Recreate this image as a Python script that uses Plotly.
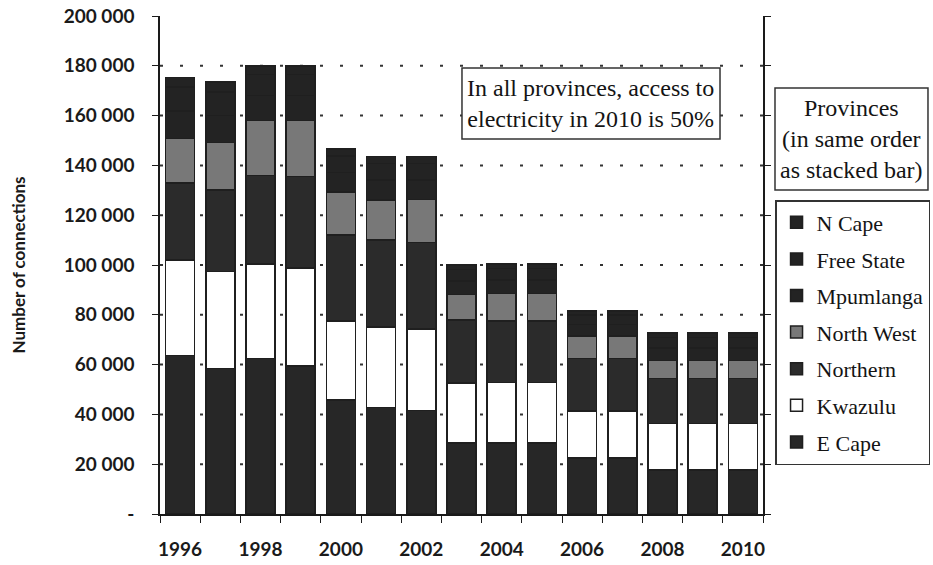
import plotly.graph_objects as go

years = list(range(1996, 2011))
e_cape = [63600, 58500, 62500, 59500, 45800, 42700, 41500, 28600, 28600, 28600, 22400, 22400, 17700, 17700, 17700]
kwazulu = [38400, 38800, 38000, 39200, 31700, 32500, 32800, 24000, 24200, 24200, 19000, 19000, 18700, 18700, 18700]
northern = [31000, 32800, 35500, 36800, 34500, 34800, 34700, 25400, 24700, 24700, 21100, 21100, 18100, 18100, 18100]
north_west = [17900, 19000, 22000, 22500, 17400, 16100, 17400, 10100, 11100, 11100, 9000, 9000, 7100, 7100, 7100]
mpumlanga = [11000, 11000, 10000, 10000, 7800, 8000, 7800, 5500, 5400, 5400, 4600, 4600, 5000, 5000, 5000]
free_state = [9500, 9300, 8500, 8500, 6500, 6600, 6500, 4600, 4500, 4500, 3900, 3900, 4200, 4200, 4200]
n_cape = [4000, 4000, 3500, 3500, 2800, 2800, 2800, 1900, 1900, 1900, 1600, 1600, 1800, 1800, 1800]

y_ticks = [0, 20000, 40000, 60000, 80000, 100000, 120000, 140000, 160000, 180000, 200000]
y_ticktext = ["-", "20 000", "40 000", "60 000", "80 000", "100 000", "120 000",
              "140 000", "160 000", "180 000", "200 000"]
x_ticklabels = [1996, 1998, 2000, 2002, 2004, 2006, 2008, 2010]

# name, values, fill colour, legend rank (N Cape listed first, as in the reference)
series = [
    ("E Cape", e_cape, "#272727", 7),
    ("Kwazulu", kwazulu, "#ffffff", 6),
    ("Northern", northern, "#2b2b2b", 5),
    ("North West", north_west, "#787878", 4),
    ("Mpumlanga", mpumlanga, "#232323", 3),
    ("Free State", free_state, "#232323", 2),
    ("N Cape", n_cape, "#232323", 1),
]

AX = "Lato"
SERIF = "Liberation Serif"
INK = "#1a1a1a"
TXT = "#141414"

fig = go.Figure()
for name, vals, col, rank in series:
    fig.add_trace(go.Bar(
        x=years, y=vals, name=name, legendgroup=name, legendrank=rank,
        marker=dict(color=col, line=dict(color="#1f1f1f", width=1.5)),
        width=0.72,
    ))

shapes = []
for v in y_ticks[1:-1]:
    shapes.append(dict(type="line", xref="paper", x0=0, x1=1, yref="y", y0=v, y1=v,
                       line=dict(color="#333333", width=2, dash="3px,17px"), layer="below"))
# annotation box
shapes.append(dict(type="rect", xref="paper", yref="paper", x0=0.5008, x1=0.9287, y0=0.753, y1=0.8956,
                   line=dict(color="#333333", width=1.5), fillcolor="white", layer="above"))
# legend title box
shapes.append(dict(type="rect", xref="paper", yref="paper", x0=1.0199, x1=1.2736, y0=0.6506, y1=0.8554,
                   line=dict(color="#333333", width=1.5), fillcolor="white", layer="above"))

annotations = [
    dict(text="In all provinces, access to<br>electricity in 2010 is 50%", xref="paper", yref="paper",
         x=0.7147, y=0.8243, xanchor="center", yanchor="middle", showarrow=False,
         font=dict(family=SERIF, size=24, color=TXT)),
    dict(text="Provinces<br>(in same order<br>as stacked bar)", xref="paper", yref="paper",
         x=1.1468, y=0.753, xanchor="center", yanchor="middle", showarrow=False,
         font=dict(family=SERIF, size=24, color=TXT)),
]

fig.update_layout(
    width=933, height=565, autosize=False,
    margin=dict(l=160, r=170, t=16, b=51, pad=0),
    paper_bgcolor="white", plot_bgcolor="white",
    barmode="stack",
    shapes=shapes, annotations=annotations,
    legend=dict(xref="container", yref="container", x=0.8307, y=0.646,
                xanchor="left", yanchor="top",
                bordercolor="#333333", borderwidth=1.5, bgcolor="white",
                font=dict(family=SERIF, size=22, color=TXT),
                traceorder="grouped", tracegroupgap=5),
    xaxis=dict(range=[1995.5, 2010.5], tickmode="array", tickvals=x_ticklabels,
               ticks="", showline=True, linecolor=INK, linewidth=1.5, automargin=False,
               showgrid=False, zeroline=False, ticklabelstandoff=17,
               tickfont=dict(family=AX, size=19, color=INK, weight="bold"),
               minor=dict(tick0=1995.5, dtick=1, ticks="outside", ticklen=7,
                          tickcolor=INK, tickwidth=1.2)),
    yaxis=dict(range=[0, 200000], tickmode="array", tickvals=y_ticks, ticktext=y_ticktext,
               ticks="outside", ticklen=6, tickcolor=INK, tickwidth=1.2, automargin=False,
               showline=True, linecolor=INK, linewidth=1.5, mirror="ticks",
               showgrid=False, zeroline=False, ticklabelstandoff=14,
               tickfont=dict(family=AX, size=19, color=INK, weight="bold"),
               title=dict(text="Number of connections", standoff=34,
                          font=dict(family=AX, size=17, color=INK, weight="bold"))),
)

fig.write_html("out.html")
